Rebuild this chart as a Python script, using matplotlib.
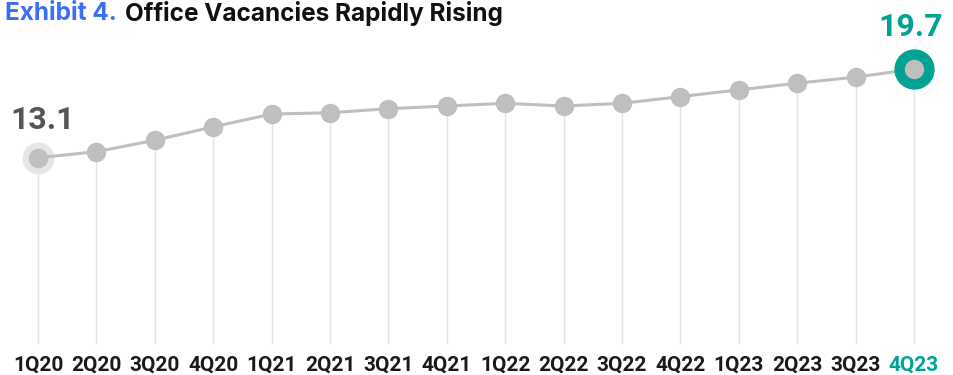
import matplotlib
matplotlib.use("Agg")
import matplotlib.pyplot as plt

quarters = ["1Q20", "2Q20", "3Q20", "4Q20", "1Q21", "2Q21", "3Q21", "4Q21",
            "1Q22", "2Q22", "3Q22", "4Q22", "1Q23", "2Q23", "3Q23", "4Q23"]
vacancy = [13.1, 13.55, 14.4, 15.4, 16.35, 16.45, 16.75, 16.95,
           17.15, 16.95, 17.15, 17.65, 18.15, 18.65, 19.1, 19.7]

GRAY = "#bfbfbf"
TEAL = "#00a293"
BLUE = "#3b6ff5"
DARK = "#555555"

fig = plt.figure(figsize=(9.54, 3.75), dpi=100)
ax = fig.add_axes([0, 0, 1, 1])
ax.set_xlim(-0.651, 15.685)
ax.set_ylim(-3.07, 24.84)
ax.axis("off")

x = list(range(len(quarters)))

# drop lines
ax.vlines(x, -0.75, vacancy, color="#e4e4e4", linewidth=1, zorder=1)

# highlight first / last
ax.plot(x[0], vacancy[0], "o", ms=22, color="#e6e6e6", zorder=2)
ax.plot(x, vacancy, color=GRAY, linewidth=2.2, zorder=3)
ax.plot(x[-1], vacancy[-1], "o", ms=28, color=TEAL, zorder=4)
ax.plot(x, vacancy, "o", ms=13, color=GRAY, linestyle="none", zorder=5)

num_font = ["Roboto", "DejaVu Sans"]
ax.text(x[0] - 0.47, vacancy[0] + 1.7, f"{vacancy[0]:.1f}", fontsize=23,
        fontweight="bold", color=DARK, ha="left", va="bottom", family=num_font)
ax.text(x[-1] - 0.05, vacancy[-1] + 2.0, f"{vacancy[-1]:.1f}", fontsize=23,
        fontweight="bold", color=TEAL, ha="center", va="bottom", family=num_font)

for i, q in enumerate(quarters):
    ax.text(i, -2.35, q, fontsize=15, fontweight="bold",
            color=TEAL if i == len(quarters) - 1 else "#1a1a1a",
            ha="center", va="center", family=num_font)

title_font = ["Inter", "DejaVu Sans"]
t1 = fig.text(5 / 954, 1 - 13 / 375, "Exhibit 4.", fontsize=17.5, fontweight="bold",
              color=BLUE, ha="left", va="center", family=title_font)
fig.canvas.draw()
bb = t1.get_window_extent()
fig.text((bb.x1 + 8) / 954, 1 - 13 / 375, "Office Vacancies Rapidly Rising", fontsize=17.5,
         fontweight="bold", color="#111111", ha="left", va="center",
         family=title_font)

fig.savefig("out.png", dpi=100)
